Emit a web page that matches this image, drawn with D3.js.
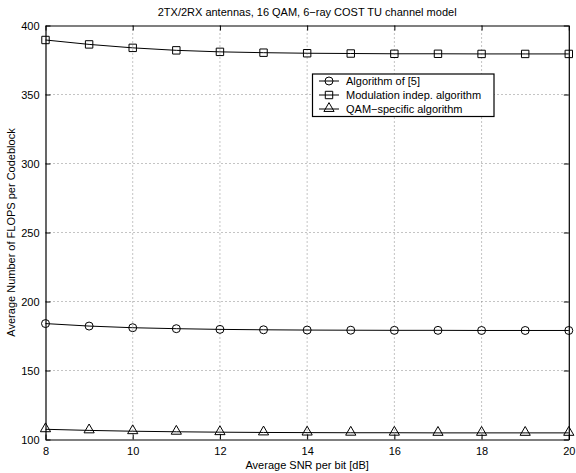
<!DOCTYPE html>
<html><head><meta charset="utf-8">
<script src="https://cdn.jsdelivr.net/npm/d3@7"></script>
<style>body{margin:0;background:#fff}svg{display:block}text{font-family:"Liberation Sans",Arial,sans-serif;fill:#000}</style>
</head><body><svg id="c" width="576" height="473"></svg>
<script>
const snr = [8,9,10,11,12,13,14,15,16,17,18,19,20];
const algo5 = [184,182.2,181,180.3,179.8,179.5,179.3,179.2,179.1,179.1,179,179,179];
const modIndep = [389.5,386.3,383.8,382,380.9,380.3,379.9,379.7,379.5,379.5,379.4,379.4,379.4];
const qamSpec = [107.4,106.6,106,105.6,105.3,105.1,105,104.9,104.9,104.8,104.8,104.8,104.8];
const xTicks = [8,10,12,14,16,18,20];
const yTicks = [100,150,200,250,300,350,400];
const seriesNames = ["Algorithm of [5]","Modulation indep. algorithm","QAM\u2212specific algorithm"];
const seriesMarkers = ["circle","square","triangle"];
const title = "2TX/2RX antennas, 16 QAM, 6\u2212ray COST TU channel model";
const xLabel = "Average SNR per bit [dB]";
const yLabel = "Average Number of FLOPS per Codeblock";

const svg = d3.select("#c");
const L=45.5, R=568.8, T=25.5, B=439.5;
const x = d3.scaleLinear().domain([8,20]).range([L,R]);
const y = d3.scaleLinear().domain([100,400]).range([B,T]);

// grid
const g = svg.append("g");
xTicks.slice(1,-1).forEach(v=>g.append("line").attr("x1",x(v)).attr("x2",x(v)).attr("y1",T).attr("y2",B)
  .attr("stroke","#888").attr("stroke-width",1).attr("stroke-dasharray","1,3"));
yTicks.slice(1,-1).forEach(v=>g.append("line").attr("x1",L).attr("x2",R).attr("y1",y(v)).attr("y2",y(v))
  .attr("stroke","#888").attr("stroke-width",1).attr("stroke-dasharray","1,3"));

// axes
const xb = svg.append("g").attr("transform",`translate(0,${B})`).call(d3.axisBottom(x).tickValues(xTicks).tickSizeInner(-5).tickSizeOuter(0).tickPadding(8));
const xt = svg.append("g").attr("transform",`translate(0,${T})`).call(d3.axisTop(x).tickValues(xTicks).tickSizeInner(-5).tickSizeOuter(0).tickFormat(""));
const yl = svg.append("g").attr("transform",`translate(${L},0)`).call(d3.axisLeft(y).tickValues(yTicks).tickSizeInner(-5).tickSizeOuter(0).tickPadding(6));
const yr = svg.append("g").attr("transform",`translate(${R},0)`).call(d3.axisRight(y).tickValues(yTicks).tickSizeInner(-5).tickSizeOuter(0).tickFormat(""));
[xb,xt,yl,yr].forEach(a=>{a.selectAll("path").attr("stroke","#000").attr("stroke-width",1.2);
  a.selectAll("line").attr("stroke","#000");
  a.selectAll("text").attr("font-size",11).attr("font-family","Liberation Sans, Arial, sans-serif");});

// series
const sym = {circle:d3.symbolCircle, square:d3.symbolSquare, triangle:d3.symbolTriangle};
const symSize = {circle:50, square:55, triangle:45};
const data = [algo5, modIndep, qamSpec];
const line = d3.line().x((d,i)=>x(snr[i])).y(d=>y(d));
data.forEach((vals,k)=>{
  svg.append("path").datum(vals).attr("d",line).attr("fill","none").attr("stroke","#000").attr("stroke-width",1);
  const m = seriesMarkers[k];
  svg.selectAll(null).data(vals).enter().append("path")
    .attr("d",d3.symbol().type(sym[m]).size(symSize[m]))
    .attr("transform",(d,i)=>`translate(${x(snr[i])},${y(d)+(m==="triangle"?-0.5:0)})`)
    .attr("fill","none").attr("stroke","#000").attr("stroke-width",1);
});

// legend
const lg = svg.append("g");
lg.append("rect").attr("x",312.5).attr("y",74).attr("width",181.5).attr("height",42.5)
  .attr("fill","#fff").attr("stroke","#000").attr("stroke-width",1.2);
seriesNames.forEach((n,k)=>{
  const yy = 81+k*14;
  lg.append("line").attr("x1",319).attr("x2",339).attr("y1",yy).attr("y2",yy).attr("stroke","#000");
  const m = seriesMarkers[k];
  lg.append("path").attr("d",d3.symbol().type(sym[m]).size(symSize[m]))
    .attr("transform",`translate(329,${yy+(m==="triangle"?-0.5:0)})`).attr("fill","none").attr("stroke","#000");
  lg.append("text").attr("x",346).attr("y",yy+4).attr("font-size",11).text(n);
});

// labels
svg.append("text").attr("x",(L+R)/2).attr("y",16).attr("text-anchor","middle").attr("font-size",11).text(title);
svg.append("text").attr("x",(L+R)/2).attr("y",469).attr("text-anchor","middle").attr("font-size",11).text(xLabel);
svg.append("text").attr("transform",`translate(15,${(T+B)/2}) rotate(-90)`).attr("text-anchor","middle").attr("font-size",11).text(yLabel);
</script></body></html>
